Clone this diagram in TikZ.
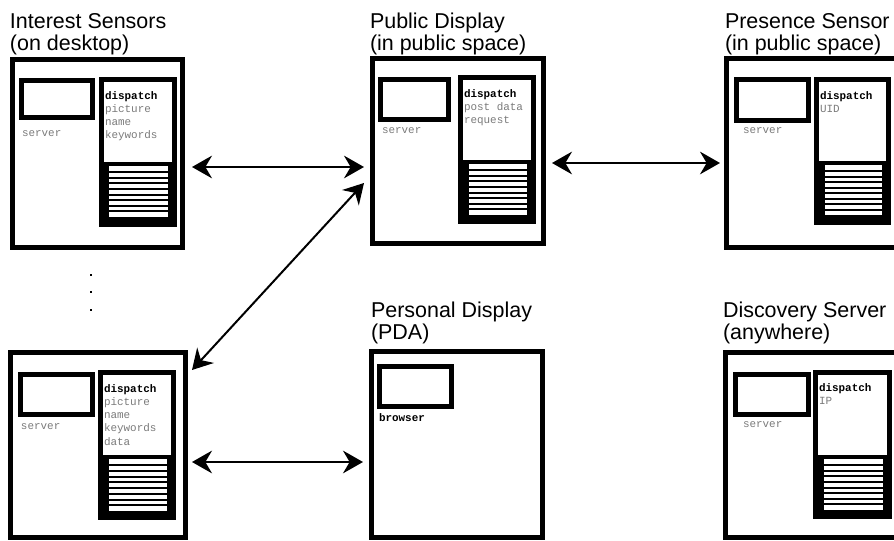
\documentclass[tikz,border=0pt]{standalone}
\usepackage{fontspec}
\setmainfont{Liberation Sans}
\setmonofont{Liberation Mono}
\usetikzlibrary{arrows.meta,fit,calc}
\definecolor{txtgray}{HTML}{7A7A7A}
\newcommand\StripeBlock[5]{%
  \node[fill=black, fit={({#2},{#3}) ({#4},{#5})}] (#1) {};
  \fill[white] ({#2+6},{#3+4.5}) rectangle ({#4-5},{#5-5});
  \foreach \k in {1,...,8}
    \fill[black] ({#2+6},{#3+4.5+\k*(#5-#3-9.5)/9-1}) rectangle ({#4-5},{#3+4.5+\k*(#5-#3-9.5)/9+1});
}
\begin{document}
\begin{tikzpicture}[x=0.75pt,y=-0.75pt,
  every node/.style={inner sep=0pt, outer sep=0pt},
  bigbox/.style={draw=black, line width=3.75pt},
  srvbox/.style={draw=black, line width=3.4pt},
  dispbox/.style={draw=black, line width=3.75pt},
  title/.style={anchor=base west, font=\fontsize{16.1}{18}\selectfont},
  mono/.style={anchor=base west, font=\ttfamily\fontsize{8.2}{9}\selectfont, text=txtgray},
  monob/.style={anchor=base west, font=\ttfamily\bfseries\fontsize{8.2}{9}\selectfont, text=black},
  arr/.style={line width=1.5pt, {Stealth[length=15pt,width=17pt,inset=5pt]}-{Stealth[length=15pt,width=17pt,inset=5pt]}}
]
\useasboundingbox (0,0) rectangle (894,541);
\clip (0,0) rectangle (894,541);

% ---------- titles ----------
\node[title] (tA1) at (10,29) {Interest Sensors};
\node[title] (tA2) at (10,51) {(on desktop)};
\node[title] (tB1) at (370,29) {Public Display};
\node[title] (tB2) at (370,51) {(in public space)};
\node[title] (tC1) at (725,29) {Presence Sensor};
\node[title] (tC2) at (725,51) {(in public space)};
\node[title] (tE1) at (371,318) {Personal Display};
\node[title] (tE2) at (371,340) {(PDA)};
\node[title] (tF1) at (723,318) {Discovery Server};
\node[title] (tF2) at (723,340) {(anywhere)};

% ---------- outer boxes ----------
\node[bigbox, fit={(12.5,59.5) (182.5,247.5)}] (A) {};
\node[bigbox, fit={(372.5,58.5) (543.5,243.5)}] (B) {};
\node[bigbox, fit={(726.5,58.5) (897.5,247.5)}] (C) {};
\node[bigbox, fit={(10.5,352.5) (185.5,537.5)}] (D) {};
\node[bigbox, fit={(371.5,351.5) (542.5,537.5)}] (E) {};
\node[bigbox, fit={(725.5,352.5) (897.5,537.5)}] (F) {};

% ---------- server boxes ----------
\node[srvbox, fit={(21.25,80.25) (92.75,117.75)}] (sA) {};
\node[srvbox, fit={(380.25,79.25) (448.75,119.75)}] (sB) {};
\node[srvbox, fit={(736.25,79.25) (808.75,120.75)}] (sC) {};
\node[srvbox, fit={(20.25,374.25) (92.75,414.75)}] (sD) {};
\node[srvbox, fit={(379.25,366.25) (451.75,406.75)}] (sE) {};
\node[srvbox, fit={(735.25,374.25) (808.75,414.75)}] (sF) {};

\node[mono] (lA) at (22,137) {server};
\node[mono] (lB) at (382,134) {server};
\node[mono] (lC) at (743,134) {server};
\node[mono] (lD) at (21,430) {server};
\node[monob] (lE) at (379,422) {browser};
\node[mono] (lF) at (743,428) {server};

% ---------- dispatch panels ----------
\node[dispbox, fit={(101.5,79.5) (174.5,224.5)}] (dA) {};
\node[dispbox, fit={(460.5,77.5) (533.5,221.5)}] (dB) {};
\node[dispbox, fit={(816.5,79.5) (888.5,222.5)}] (dC) {};
\node[dispbox, fit={(100.5,372.5) (173.5,517.5)}] (dD) {};
\node[dispbox, fit={(815.5,372.5) (889.5,516.5)}] (dF) {};

\StripeBlock{stA}{103}{162}{172.5}{222}
\StripeBlock{stB}{463}{160}{531.5}{220}
\StripeBlock{stC}{819}{161}{886.5}{220.5}
\StripeBlock{stD}{103}{455}{171.5}{516}
\StripeBlock{stF}{818}{455}{888}{515}

% ---------- dispatch texts ----------
\node[monob] (xA0) at (105,100) {dispatch};
\node[mono]  (xA1) at (105,113) {picture};
\node[mono]  (xA2) at (105,126) {name};
\node[mono]  (xA3) at (105,139) {keywords};

\node[monob] (xB0) at (464,98) {dispatch};
\node[mono]  (xB1) at (464,111) {post data};
\node[mono]  (xB2) at (464,124) {request};

\node[monob] (xC0) at (820,100) {dispatch};
\node[mono]  (xC1) at (820,113) {UID};

\node[monob] (xD0) at (104,393) {dispatch};
\node[mono]  (xD1) at (104,406) {picture};
\node[mono]  (xD2) at (104,419) {name};
\node[mono]  (xD3) at (104,432) {keywords};
\node[mono]  (xD4) at (104,446) {data};

\node[monob] (xF0) at (819,392) {dispatch};
\node[mono]  (xF1) at (819,405) {IP};

% ---------- dots ----------
\fill (90,274) rectangle (92,276);
\fill (90,291) rectangle (92,293);
\fill (90,309) rectangle (92,311);

% ---------- connectors ----------
\coordinate (a1) at ($(A.east |- 0,167)+(9.5,0)$);
\coordinate (b1) at ($(B.west |- 0,167)+(-8.5,0)$);
\coordinate (b2) at ($(B.east |- 0,163)+(8.5,0)$);
\coordinate (c2) at ($(C.west |- 0,163)+(-6.5,0)$);
\coordinate (d3) at ($(D.east |- 0,370)+(6.5,0)$);
\coordinate (b3) at ($(B.west |- 0,183)+(-8.5,0)$);
\coordinate (d4) at ($(D.east |- 0,462)+(6.5,0)$);
\coordinate (e4) at ($(E.west |- 0,462)+(-8.5,0)$);

\draw[arr] (a1) -- (b1);
\draw[arr] (b2) -- (c2);
\draw[arr] (d3) -- (b3);
\draw[arr] (d4) -- (e4);
\end{tikzpicture}
\end{document}
